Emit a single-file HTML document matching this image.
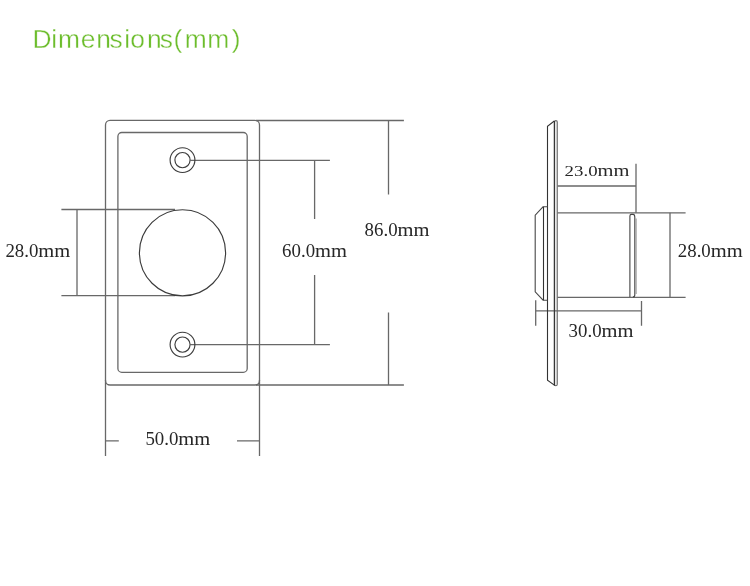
<!DOCTYPE html>
<html><head><meta charset="utf-8"><style>
html,body{margin:0;padding:0;background:#fff;}
svg{display:block;will-change:transform;}
.t{font-family:"Liberation Serif",serif;font-size:18px;fill:#272727;}
.ttl{font-family:"Liberation Sans",sans-serif;font-size:26.4px;fill:#6cbd2c;stroke:#fff;stroke-width:0.35px;}
</style></head><body>
<svg width="750" height="586" viewBox="0 0 750 586">
<text class="ttl" x="32.5 51.2 58.05 80.65 96.35 109.6 124.2 130.15 146.9 159.75 173.6 184.65 207.35 231.65" y="48">Dimensions(mm)</text>
<rect x="554.4" y="120.6" width="2.9" height="265" rx="1.4" fill="#e6e6e6" stroke="#707070" stroke-width="1.1"/>
<g fill="none" stroke="#686868" stroke-width="1.3">
  <!-- dimension lines -->
  <path d="M61.4 209.5H175M61.4 295.7H175M77 209.5V295.7"/>
  <path d="M190.4 160.4H329.9M190.4 344.6H329.9M314.6 160.4V219.1M314.6 275.1V344.6"/>
  <path d="M256 120.5H403.9M256 385H403.9M388.5 120.5V194.5M388.5 312.4V385"/>
  <path d="M105.5 380V456M259.5 380V456M105.5 440.8H118.8M237 440.8H259.5"/>
  <path d="M557.5 212.8H685.6M557.5 297.3H685.6"/>
  <path d="M557.6 186H636M636 163.7V212.8M670 212.8V297.1"/>
  <path d="M535.7 310.9H641M535.7 300.2V325.8M641.5 301V325.8"/>
  <rect x="105.5" y="120.4" width="154" height="264.6" rx="4.5"/>
  <rect x="117.9" y="132.5" width="129.3" height="239.8" rx="3.9"/>
</g>
<g fill="none" stroke="#3c3c3c" stroke-width="1.15">
  <circle cx="182.5" cy="160.1" r="12.4"/>
  <circle cx="182.5" cy="160.1" r="7.6"/>
  <circle cx="182.5" cy="344.6" r="12.4"/>
  <circle cx="182.5" cy="344.6" r="7.6"/>
  <circle cx="182.5" cy="252.8" r="43.1"/>
</g>
<g fill="none" stroke="#333" stroke-width="1.1">
  <path d="M554.3 121L547.5 126.2V380.3L554.7 385.4"/>
  <path d="M554.4 121V385.4"/>
  <path d="M547.5 206.8H543L535.2 215.2V291.8L543.1 300.2H547.5" stroke="#484848"/>
  <path d="M543.5 206.8V300.2"/>
  <path d="M629.9 297V216Q629.9 214.4 631.4 214.4H633Q634.8 214.4 634.8 217.2V295Q634.8 297 632.8 297" stroke="#444"/>
  <path d="M635.9 218.5V294" stroke="#aaa" stroke-width="1.8"/>
</g>
<text class="t" x="5.4" y="256.6" textLength="64.9" lengthAdjust="spacingAndGlyphs">28.0<tspan font-size="19.6">mm</tspan></text>
<text class="t" x="282.1" y="256.5" textLength="64.9" lengthAdjust="spacingAndGlyphs">60.0<tspan font-size="19.6">mm</tspan></text>
<text class="t" x="364.6" y="235.8" textLength="64.9" lengthAdjust="spacingAndGlyphs">86.0<tspan font-size="19.6">mm</tspan></text>
<text class="t" x="145.4" y="445" textLength="64.9" lengthAdjust="spacingAndGlyphs">50.0<tspan font-size="19.6">mm</tspan></text>
<text class="t" transform="translate(0 175.7) scale(1 0.86) translate(0 -175.7)" x="564.6" y="175.7" textLength="64.9" lengthAdjust="spacingAndGlyphs">23.0<tspan font-size="19.6">mm</tspan></text>
<text class="t" x="568.6" y="336.8" textLength="64.9" lengthAdjust="spacingAndGlyphs">30.0<tspan font-size="19.6">mm</tspan></text>
<text class="t" x="677.8" y="256.7" textLength="64.9" lengthAdjust="spacingAndGlyphs">28.0<tspan font-size="19.6">mm</tspan></text>
</svg>
</body></html>
